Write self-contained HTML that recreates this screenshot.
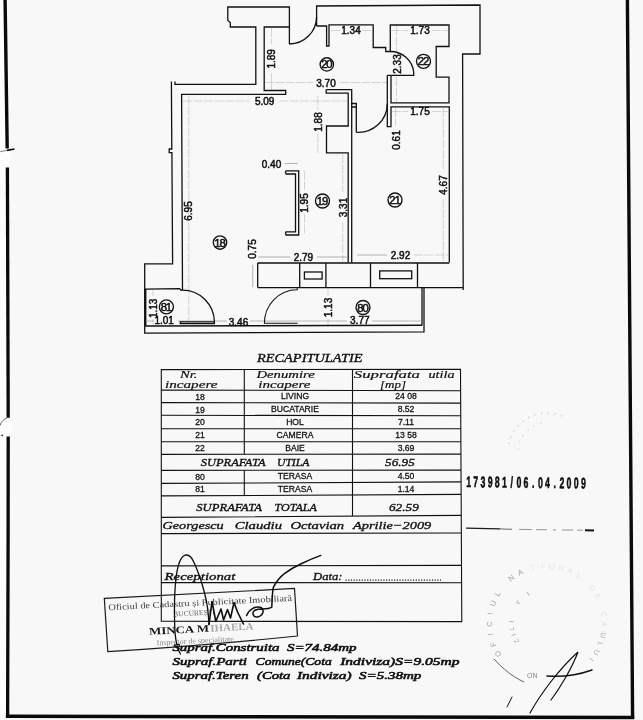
<!DOCTYPE html>
<html>
<head>
<meta charset="utf-8">
<title>Plan</title>
<style>
html,body{margin:0;padding:0;background:#f8f8f8;}
body{width:643px;height:720px;overflow:hidden;font-family:"Liberation Sans",sans-serif;}
svg{display:block;}
.w{fill:none;stroke:#111;stroke-width:1.3;stroke-linejoin:miter;stroke-linecap:butt;}
.w2{fill:none;stroke:#111;stroke-width:1.6;}
.d{fill:none;stroke:#b4b4b4;stroke-width:0.55;stroke-dasharray:9 1.5;}
.t{font-family:"Liberation Sans",sans-serif;font-size:10px;fill:#111;text-anchor:middle;stroke:#111;stroke-width:0.5;}
.c{fill:none;stroke:#111;stroke-width:1.35;}
.ct{font-family:"Liberation Sans",sans-serif;font-size:11.3px;fill:#111;text-anchor:middle;letter-spacing:-1.25px;stroke:#111;stroke-width:0.5;}
.tb{fill:none;stroke:#111;stroke-width:1.1;}
.ts{font-family:"Liberation Sans",sans-serif;font-size:8.6px;fill:#111;text-anchor:middle;stroke:#111;stroke-width:0.28;}
.si{font-family:"Liberation Serif",serif;font-style:italic;fill:#111;stroke:#111;stroke-width:0.34;}
#btext .si{stroke-width:0.6;}
</style>
</head>
<body>
<svg width="643" height="720" viewBox="0 0 643 720" style="filter:grayscale(1)">
<rect x="0" y="0" width="643" height="720" fill="#f8f8f8"/>

<!-- FRAME -->
<path d="M0,0 H4 L6,148 L7,300 L6.5,720 H0 Z" fill="#fdfdfd"/>
<circle cx="2" cy="158" r="10" fill="#fdfdfd"/>
<circle cx="2" cy="427.5" r="10.5" fill="#fdfdfd"/>
<g id="frame" fill="none" stroke="#0a0a0a">
<path d="M5.1,0 L7.2,148.5" stroke-width="3.4"/>
<path d="M7.4,167.5 L8.2,417.7" stroke-width="3.3"/>
<path d="M8.2,436.5 L8.1,540 L7.6,717.8" stroke-width="3.3"/><path d="M0,425.5 Q2,419.5 7,418" stroke="#555" stroke-width="0.9"/>
<path d="M5.9,716.2 L634.2,717.5" stroke-width="3.5"/>
<path d="M627.4,0 L628.7,180 L632.6,719" stroke-width="3.4"/>
<path d="M0,151.6 L7,150.4" stroke="#999" stroke-width="1.3"/><path d="M7,150.4 L14.5,149" stroke-width="1.7"/><circle cx="2.2" cy="435.3" r="0.9" fill="#222" stroke="none"/>
</g>

<!-- PLAN -->
<g id="plan">
<!-- dimension lines -->
<g class="d">
<path d="M188.8,96 V322"/>
<path d="M183,101 H250 M279,101 H347"/>
<path d="M271.5,28 V44 M271.5,73 V90"/>
<path d="M265,82.5 H313 M340,82.5 H387"/>
<path d="M331,30.5 H340 M362,30.5 H374"/>
<path d="M392,30.5 H408 M432,30.5 H448"/>
<path d="M396.5,26 V52 M396.5,77 V102"/>
<path d="M392,111.5 H408 M432,111.5 H448"/>
<path d="M395.5,108 V126"/>
<path d="M443.3,108 V170 M443.3,199 V262"/>
<path d="M357,255 H387" style="stroke:#777;stroke-dasharray:none"/><path d="M414,255 H448"/>
<path d="M342.8,154 V192 M342.8,223 V262"/>
<path d="M317.8,96 V110 M317.8,134 V153"/>
<path d="M285,163.5 H298" style="stroke:#777;stroke-dasharray:none"/>
<path d="M304.5,171 V190 M304.5,214 V235"/>
<path d="M258,257 H290 M317,257 H347" style="stroke:#777;stroke-dasharray:none"/>
<path d="M252.7,265 V287" style="stroke:#777;stroke-dasharray:none"/>
<path d="M147,321 H154 M178,321 H227 M250,321 H347 M372,321 H421" style="stroke:#808080;stroke-dasharray:none"/>
<path d="M328,289 V296 M328,319 V325"/>
<path d="M153,290 V296 M153,319 V325"/>
</g>

<!-- outer walls -->
<path class="w" d="M289.4,44 V7 H227.8 V20.5 L230.3,22.5 V27 H255.8 V84.3 H175 V81.5"/>
<path class="w" d="M171.4,81.5 L171.8,149 H169.2 V152.6 H171.9 L172.6,263.8 H144.7 V333.2 L424,331.8 V287.5"/>
<path class="w" d="M316.6,26 V6 L480,5 V54 H462.6 L463.2,290"/>
<path class="w" d="M257.7,287.6 H463"/>
<!-- entrance door arc -->
<path class="w" d="M289.4,44 A27.4,27.4 0 0 0 316.6,17"/>
<!-- hall 20 outline -->
<path class="w" d="M289.4,27 H264.2 V90.5 H285.7 V94.4 H181.6 L182.5,290.2"/>
<path class="w" d="M316.6,26 H326.6 V46 H329 V24.8 H373.2 V47.5 H385.7 V51.5 H390.3 V25 H449 V46.5 H436.2 V77.2 H449 V102.9 H391 V75.5"/>
<!-- bath door -->
<path class="w" d="M390.3,51.5 A23.4,23.4 0 0 1 413.7,72 V75.3 H387.3"/>
<path class="w" d="M387.3,75.3 V126.7 H391 V106.8 H449.3 V262.6"/>
<!-- stub 3.70 right & kitchen wall -->
<path class="w" d="M326.2,89.6 H351.7 V103.5 H356.3 V132.3"/>
<path class="w" d="M326.2,89.6 V93.2 H348.2 V126 H326.5 V152.8 H348.2 V262.6"/>
<path class="w" d="M351.7,107 H356.3 M351.7,103.5 V262.6"/>
<!-- camera door arc -->
<path class="w" d="M356.3,132.3 A28.8,28.8 0 0 0 387.3,104"/>
<!-- bottom of rooms -->
<path class="w" d="M257.7,263 H449.3"/>
<path class="w" d="M257.7,263 V287.6 M299.7,263 V287.6 M325.9,263 V287.6 M370.5,263 V287.6 M417.5,263 V287.6"/>
<rect class="w" x="304.4" y="272" width="17.7" height="7"/>
<rect class="w" x="379.7" y="270.9" width="32" height="7.8"/>
<!-- kitchen bar -->
<path class="w" d="M286,170.8 H298.7 V235 H286 Q285,233.5 286,231.8 H295.5 V174 H286 Q285,172.4 286,170.8 Z"/>
<!-- balcony -->
<path class="w2" d="M145.6,289 V325.6"/>
<path class="w" d="M144.7,289.2 L179.6,288.7 L181.2,290.3 H182.5"/>
<path class="w2" d="M145,326 L422,325.3"/>
<path class="w" d="M422,287.6 V325.6"/>
<!-- door 81 -->
<path class="w" d="M182.5,290.2 A32,32 0 0 1 214.4,321.8 V323.6 H180.3 V321.8 H214.4"/>
<!-- living balcony door -->
<path class="w" d="M297.2,287.6 V289.8 A32.8,33.4 0 0 0 264.4,323.3 H297.6" style="stroke-width:1.05"/>
</g>

<!-- plan texts -->
<g id="ptexts">
<text class="t" x="264.7" y="104.5">5.09</text>
<text class="t" x="326" y="86.8">3.70</text>
<text class="t" x="351" y="34">1.34</text>
<text class="t" x="420" y="34">1.73</text>
<text class="t" x="420" y="115">1.75</text>
<text class="t" x="400.5" y="258.7">2.92</text>
<text class="t" x="303.4" y="260.5">2.79</text>
<text class="t" x="271.5" y="167.6">0.40</text>
<text class="t" x="164.2" y="324.4">1.01</text>
<text class="t" x="238.5" y="325.5">3.46</text>
<text class="t" x="359.8" y="324">3.77</text>
<text class="t" transform="translate(275,58.8) rotate(-90)">1.89</text>
<text class="t" transform="translate(400.6,64) rotate(-90)">2.33</text>
<text class="t" transform="translate(321.6,122) rotate(-90)">1.88</text>
<text class="t" transform="translate(399.5,140) rotate(-90)">0.61</text>
<text class="t" transform="translate(447,185) rotate(-90)">4.67</text>
<text class="t" transform="translate(346.6,207.5) rotate(-90)">3.31</text>
<text class="t" transform="translate(308.2,203) rotate(-90)">1.95</text>
<text class="t" transform="translate(192.4,211) rotate(-90)">6.95</text>
<text class="t" transform="translate(256.3,249) rotate(-90)">0.75</text>
<text class="t" transform="translate(156.7,308.3) rotate(-90)">1.13</text>
<text class="t" transform="translate(331.7,307.5) rotate(-90)">1.13</text>
<g>
<circle class="c" cx="326.8" cy="64.4" r="6.7"/><text class="ct" x="326.2" y="68.45">20</text>
<circle class="c" cx="423.5" cy="61.3" r="7.0"/><text class="ct" x="422.9" y="65.35">22</text>
<circle class="c" cx="322.5" cy="201.0" r="7.0"/><text class="ct" x="321.9" y="205.05">19</text>
<circle class="c" cx="395.0" cy="200.0" r="7.0"/><text class="ct" x="394.4" y="204.05">21</text>
<circle class="c" cx="220.0" cy="242.5" r="6.7"/><text class="ct" x="219.4" y="246.55">18</text>
<circle class="c" cx="166.4" cy="306.9" r="7.0"/><text class="ct" x="165.8" y="310.95">81</text>
<circle class="c" cx="363.0" cy="307.5" r="7.0"/><text class="ct" x="362.4" y="311.55">80</text>
</g>
</g>

<!-- TABLE -->
<g id="table">
<path class="tb" d="M161.3,369.6 L460.5,369.4 L461.8,621.6 L161.3,621.3 Z"/>
<path class="tb" d="M161.3,390.1 L460.6,390.8 M161.3,402.6 L460.7,403.1 M161.3,415.3 L460.7,415.7 M161.3,428.8 L460.8,428.8 M161.3,441.7 L460.9,441.7 M161.3,454.4 L460.9,454.1 M161.3,470.4 L461.0,470.1 M161.3,483.4 L461.1,481.9 M161.3,495.9 L461.1,494.4 M161.3,517.4 L461.3,515.4 M161.3,533.6 L461.3,533.0 M161.3,565.9 L461.5,565.4 M161.3,582.6 L461.6,582.8"/>
<path class="tb" d="M244.3,369.5 V454.3 M352.5,369.5 V454.2 M244.3,470.3 V495.5 M352.5,454.2 V516.1"/>
</g>
<g id="ttext">
<text class="si" x="257" y="362" font-size="12.4" textLength="105.5" lengthAdjust="spacingAndGlyphs">RECAPITULATIE</text>
<text class="si" x="180" y="378.3" font-size="10.6" textLength="17.5" lengthAdjust="spacingAndGlyphs" style="stroke-width:0.2">Nr.</text>
<text class="si" x="165" y="388.4" font-size="10.6" textLength="52.5" lengthAdjust="spacingAndGlyphs" style="stroke-width:0.2">incapere</text>
<text class="si" x="256.5" y="378.3" font-size="10.6" textLength="58.2" lengthAdjust="spacingAndGlyphs" style="stroke-width:0.2">Denumire</text>
<text class="si" x="258.3" y="388.4" font-size="10.6" textLength="52.2" lengthAdjust="spacingAndGlyphs" style="stroke-width:0.2">incapere</text>
<text class="si" x="353.8" y="377.8" font-size="10.6" textLength="66.2" lengthAdjust="spacingAndGlyphs" style="stroke-width:0.2">Suprafata</text>
<text class="si" x="428.5" y="377.8" font-size="10.6" textLength="26.0" lengthAdjust="spacingAndGlyphs" style="stroke-width:0.2">utila</text>
<text class="si" x="380" y="387.7" font-size="10.6" textLength="26" lengthAdjust="spacingAndGlyphs" style="stroke-width:0.2">[mp]</text>
<text class="si" x="200.8" y="466.4" font-size="11" textLength="64.7" lengthAdjust="spacingAndGlyphs">SUPRAFATA</text>
<text class="si" x="277" y="466.4" font-size="11" textLength="32.3" lengthAdjust="spacingAndGlyphs">UTILA</text>
<text class="si" x="385" y="466.2" font-size="11" textLength="29.9" lengthAdjust="spacingAndGlyphs">56.95</text>
<text class="si" x="196.3" y="511.2" font-size="11" textLength="65.7" lengthAdjust="spacingAndGlyphs">SUPRAFATA</text>
<text class="si" x="274.5" y="511.2" font-size="11" textLength="42.3" lengthAdjust="spacingAndGlyphs">TOTALA</text>
<text class="si" x="389" y="511.2" font-size="11" textLength="29.8" lengthAdjust="spacingAndGlyphs">62.59</text>
<text class="si" x="162.5" y="529.3" font-size="11.4" textLength="61.2" lengthAdjust="spacingAndGlyphs">Georgescu</text>
<text class="si" x="234.7" y="529.3" font-size="11.4" textLength="47.3" lengthAdjust="spacingAndGlyphs">Claudiu</text>
<text class="si" x="290.4" y="529.3" font-size="11.4" textLength="53.8" lengthAdjust="spacingAndGlyphs">Octavian</text>
<text class="si" x="353.1" y="529.3" font-size="11.4" textLength="78.2" lengthAdjust="spacingAndGlyphs">Aprilie&#8722;2009</text>
<text class="si" x="164.5" y="580.3" font-size="11.4" textLength="70.9" lengthAdjust="spacingAndGlyphs">Receptionat</text>
<text class="si" x="313" y="580.3" font-size="11.4" textLength="29.5" lengthAdjust="spacingAndGlyphs">Data:</text>

<text class="ts" x="200" y="399.8">18</text>
<text class="ts" x="200" y="412.7">19</text>
<text class="ts" x="200" y="425.3">20</text>
<text class="ts" x="200" y="438.3">21</text>
<text class="ts" x="200" y="451.1">22</text>
<text class="ts" x="200" y="479.7">80</text>
<text class="ts" x="200" y="492.3">81</text>
<text class="ts" x="295" y="399.4">LIVING</text>
<text class="ts" x="295" y="412.3">BUCATARIE</text>
<text class="ts" x="295" y="424.9">HOL</text>
<text class="ts" x="295" y="437.9">CAMERA</text>
<text class="ts" x="295" y="450.7">BAIE</text>
<text class="ts" x="295" y="479.3">TERASA</text>
<text class="ts" x="295" y="491.9">TERASA</text>
<text class="ts" x="406" y="399.4">24 08</text>
<text class="ts" x="406" y="412.3">8.52</text>
<text class="ts" x="406" y="424.9">7.11</text>
<text class="ts" x="406" y="437.9">13 58</text>
<text class="ts" x="406" y="450.7">3.69</text>
<text class="ts" x="406" y="478.9">4.50</text>
<text class="ts" x="406" y="491.9">1.14</text>

<path d="M345.5,580.2 H441" stroke="#1c1c1c" stroke-width="1.2" stroke-dasharray="1.2 1.5" fill="none"/>
</g>

<!-- right side number -->
<g id="regnum">
<text transform="translate(466.2,487) rotate(0.7) scale(0.56,1)" font-family="Liberation Sans,sans-serif" font-weight="bold" font-size="15.4" fill="#0c0c0c" stroke="#0c0c0c" stroke-width="0.6" x="0.0 12.8 25.61 38.41 51.21 64.02 78.96 89.62 102.43 117.37 128.04 140.84 155.78 166.45 179.25 192.05 204.86">173981/06.04.2009</text>
<path d="M466,528.1 L500,528.9" stroke="#1a1a1a" stroke-width="1.3" fill="none"/>
<path d="M500,528.9 L512,529.3" stroke="#666" stroke-width="1" fill="none"/>
<path d="M519,529.4 L532,529.6 M536,529.7 L547,529.8 M553,529.9 L556,529.9 M562,530 L573,530.1 M577,530.1 L583,530.2" stroke="#8a8a8a" stroke-width="0.9" fill="none"/>
<path d="M585,530.3 L594,530.5" stroke="#111" stroke-width="2" fill="none"/>
</g>

<!-- bottom texts -->
<g id="btext">
<text class="si" x="172.4" y="651" font-size="11.2" textLength="107.1" lengthAdjust="spacingAndGlyphs">Supraf.Construita</text>
<text class="si" x="287" y="651" font-size="11.2" textLength="69.6" lengthAdjust="spacingAndGlyphs">S=74.84mp</text>
<text class="si" x="172.4" y="665.4" font-size="11.2" textLength="74.6" lengthAdjust="spacingAndGlyphs">Supraf.Parti</text>
<text class="si" x="255.6" y="665.4" font-size="11.2" textLength="76.1" lengthAdjust="spacingAndGlyphs">Comune(Cota</text>
<text class="si" x="340.2" y="665.4" font-size="11.2" textLength="119.4" lengthAdjust="spacingAndGlyphs">Indiviza)S=9.05mp</text>
<text class="si" x="172.4" y="678.6" font-size="11.2" textLength="76.2" lengthAdjust="spacingAndGlyphs">Supraf.Teren</text>
<text class="si" x="257" y="678.6" font-size="11.2" textLength="33.4" lengthAdjust="spacingAndGlyphs">(Cota</text>
<text class="si" x="296.9" y="678.6" font-size="11.2" textLength="54.7" lengthAdjust="spacingAndGlyphs">Indiviza)</text>
<text class="si" x="359" y="678.6" font-size="11.2" textLength="62.3" lengthAdjust="spacingAndGlyphs">S=5.38mp</text>
</g>

<!-- stamp box -->
<g id="stamp">
<path d="M104.3,598.4 L294.5,588.5 L297.5,636 Q200,646 107.8,651.6 Z" fill="none" stroke="#1a1a1a" stroke-width="1.2"/>
<g transform="translate(104.3,598.4) rotate(-2.9)">
<text x="3.5" y="12" font-family="Liberation Serif,serif" font-size="8.8" fill="#3a3a3a" textLength="184" lengthAdjust="spacingAndGlyphs">Oficiul de Cadastru și Publicitate Imobiliară</text>
<text x="68" y="21.5" font-family="Liberation Serif,serif" font-size="7.5" fill="#666">BUCUREȘTI</text>
<text x="43" y="38.6" font-family="Liberation Serif,serif" font-weight="bold" font-size="10.2" fill="#161616" textLength="60" lengthAdjust="spacingAndGlyphs">MINCA M</text>
<text x="104.5" y="38.6" font-family="Liberation Serif,serif" font-weight="bold" font-size="10.2" fill="#a9a9a9" textLength="43" lengthAdjust="spacingAndGlyphs">IHAELA</text>
<text x="50" y="49.5" font-family="Liberation Serif,serif" font-size="8" fill="#8a8a8a">Inspector de specialitate</text>
</g>
</g>

<!-- signature -->
<g id="sig" fill="none" stroke="#0e0e0e" stroke-linecap="round" stroke-linejoin="round">
<path d="M180.5,654 C176.5,648 174.8,636 174.6,622 C174.2,605 174.6,590 176,578 C177.5,566 180,557 185,555.2 C189.5,554 192.5,558.5 194.6,563.8 C197.6,570.5 199.8,577 201.8,583 C204.2,591.5 206,598 207,604.4 C208.2,611 208.6,618.5 209,624.4" stroke-width="1.3"/>
<path d="M209,624.4 L212,601.5 L215.8,621.4 L221,609 L223.6,620 L227.5,609.5 L230.5,618 L234,602.5 L237.5,612 L241,619 L243.5,624" stroke-width="1.6"/>
<path d="M246.6,615.6 C249,609 256,605.5 261,607.5 C265,610 263,616 257.5,617 C252.5,617.3 251.5,612.5 255,610.2 C260,607.8 267,610.5 271.8,607.2 C272,600 272.4,593 273.2,587.6 C276,582 280,577 284.4,573.6 C290,569.5 296,566.2 301.2,563.8 C308,560.5 315,557.5 320.8,555.4" stroke-width="1.5"/>
</g>

<!-- faint round stamps -->
<g id="faint" fill="none">
<path d="M508.9,443.9 A39,39 0 0 1 566.5,418.2" stroke="#cfcfcf" stroke-width="1.6" stroke-dasharray="1.2 5.5"/>
<path d="M518.1,449.5 A29,29 0 0 1 544.5,423.1" stroke="#d6d6d6" stroke-width="1.4" stroke-dasharray="1.2 6"/>
<text transform="translate(500.2,652.6) rotate(238)" font-family="Liberation Sans,sans-serif" font-size="7.5" fill="#a0a0a0" text-anchor="middle">O</text>
<text transform="translate(495.6,643.7) rotate(248)" font-family="Liberation Sans,sans-serif" font-size="7.5" fill="#a0a0a0" text-anchor="middle">F</text>
<text transform="translate(492.8,634.0) rotate(259)" font-family="Liberation Sans,sans-serif" font-size="7.5" fill="#a0a0a0" text-anchor="middle">I</text>
<text transform="translate(491.8,624.0) rotate(270)" font-family="Liberation Sans,sans-serif" font-size="7.5" fill="#a0a0a0" text-anchor="middle">C</text>
<text transform="translate(492.6,613.9) rotate(280)" font-family="Liberation Sans,sans-serif" font-size="7.5" fill="#a0a0a0" text-anchor="middle">I</text>
<text transform="translate(495.3,604.2) rotate(290)" font-family="Liberation Sans,sans-serif" font-size="7.5" fill="#a0a0a0" text-anchor="middle">U</text>
<text transform="translate(499.7,595.2) rotate(301)" font-family="Liberation Sans,sans-serif" font-size="7.5" fill="#a0a0a0" text-anchor="middle">L</text>
<text transform="translate(512.9,580.2) rotate(322)" font-family="Liberation Sans,sans-serif" font-size="7.5" fill="#a0a0a0" text-anchor="middle">N</text>
<text transform="translate(521.4,574.7) rotate(332)" font-family="Liberation Sans,sans-serif" font-size="7.5" fill="#a0a0a0" text-anchor="middle">A</text>
<text transform="translate(533.5,570.1) rotate(346)" font-family="Liberation Sans,sans-serif" font-size="7.5" fill="#e4e4e4" text-anchor="middle">T</text>
<text transform="translate(542.5,568.7) rotate(356)" font-family="Liberation Sans,sans-serif" font-size="7.5" fill="#e4e4e4" text-anchor="middle">I</text>
<text transform="translate(551.6,568.7) rotate(365)" font-family="Liberation Sans,sans-serif" font-size="7.5" fill="#e4e4e4" text-anchor="middle">O</text>
<text transform="translate(560.6,570.3) rotate(374)" font-family="Liberation Sans,sans-serif" font-size="7.5" fill="#e4e4e4" text-anchor="middle">N</text>
<text transform="translate(569.2,573.3) rotate(384)" font-family="Liberation Sans,sans-serif" font-size="7.5" fill="#e4e4e4" text-anchor="middle">A</text>
<text transform="translate(577.2,577.6) rotate(394)" font-family="Liberation Sans,sans-serif" font-size="7.5" fill="#e4e4e4" text-anchor="middle">L</text>
<text transform="translate(590.4,590.0) rotate(412)" font-family="Liberation Sans,sans-serif" font-size="7.5" fill="#e4e4e4" text-anchor="middle">D</text>
<text transform="translate(595.4,597.7) rotate(422)" font-family="Liberation Sans,sans-serif" font-size="7.5" fill="#e4e4e4" text-anchor="middle">E</text>
<text transform="translate(601.1,614.9) rotate(441)" font-family="Liberation Sans,sans-serif" font-size="7.5" fill="#e4e4e4" text-anchor="middle">C</text>
<text transform="translate(601.8,624.0) rotate(450)" font-family="Liberation Sans,sans-serif" font-size="7.5" fill="#e4e4e4" text-anchor="middle">A</text>
<text transform="translate(601.0,633.1) rotate(460)" font-family="Liberation Sans,sans-serif" font-size="7.5" fill="#e4e4e4" text-anchor="middle">D</text>
<text transform="translate(600.6,634.9) rotate(102)" font-family="Liberation Sans,sans-serif" font-size="7.5" fill="#b2b2b2" text-anchor="middle">U</text>
<text transform="translate(598.1,643.2) rotate(111)" font-family="Liberation Sans,sans-serif" font-size="7.5" fill="#b2b2b2" text-anchor="middle">L</text>
<text transform="translate(594.4,651.0) rotate(120)" font-family="Liberation Sans,sans-serif" font-size="7.5" fill="#b2b2b2" text-anchor="middle">U</text>
<text transform="translate(589.5,658.1) rotate(129)" font-family="Liberation Sans,sans-serif" font-size="7.5" fill="#b2b2b2" text-anchor="middle">I</text>
<text transform="translate(518.2,640.0) rotate(240)" font-family="Liberation Sans,sans-serif" font-size="6.5" fill="#a8a8a8" text-anchor="middle">Z</text>
<text transform="translate(515.6,634.2) rotate(251)" font-family="Liberation Sans,sans-serif" font-size="6.5" fill="#a8a8a8" text-anchor="middle">I</text>
<text transform="translate(514.1,628.1) rotate(262)" font-family="Liberation Sans,sans-serif" font-size="6.5" fill="#a8a8a8" text-anchor="middle">L</text>
<text transform="translate(513.8,621.8) rotate(273)" font-family="Liberation Sans,sans-serif" font-size="6.5" fill="#a8a8a8" text-anchor="middle">I</text>
<text transform="translate(520.1,604.1) rotate(306)" font-family="Liberation Sans,sans-serif" font-size="6.5" fill="#a8a8a8" text-anchor="middle">Y</text>
<text transform="translate(529.3,595.5) rotate(328)" font-family="Liberation Sans,sans-serif" font-size="6.5" fill="#a8a8a8" text-anchor="middle">I</text>
<text font-family="Liberation Sans,sans-serif" font-size="7" fill="#888" x="527" y="678">ON</text>
<path d="M494,659 C503,669 513,677 524,682" stroke="#555" stroke-width="0.9"/>
</g>
<g id="sig2" fill="none" stroke="#111" stroke-linecap="round">
<path d="M530,713 C540,695 558,670 578,652 C572,668 560,688 551,700" stroke-width="1.2"/>
<path d="M547,676 C560,677 578,675 592,670" stroke-width="1.5"/>
<path d="M507,707 L512,697" stroke-width="1"/>
</g>
</svg>
</body>
</html>
